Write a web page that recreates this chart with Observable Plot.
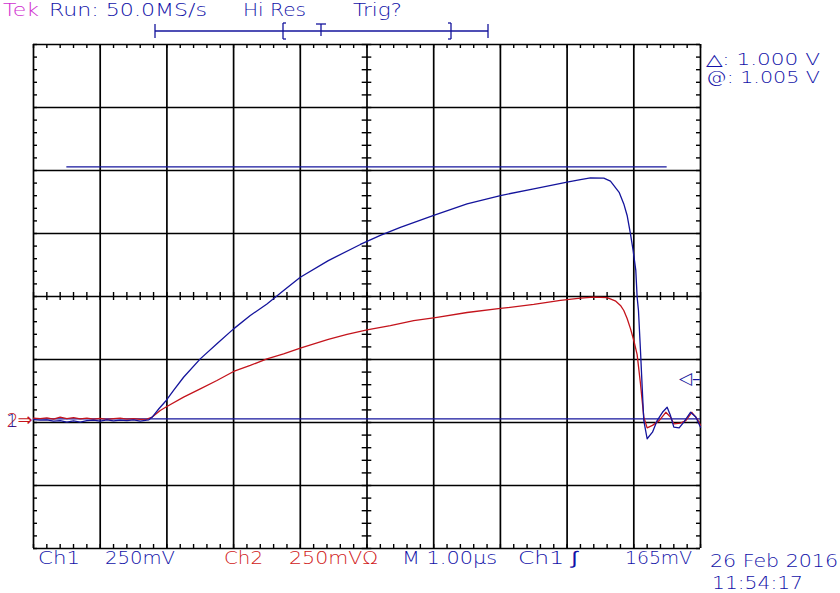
<!DOCTYPE html>
<html><head><meta charset="utf-8">
<script src="https://cdn.jsdelivr.net/npm/d3@7"></script>
<script src="https://cdn.jsdelivr.net/npm/@observablehq/plot@0.6"></script>
<style>
html,body{margin:0;padding:0;background:#fff;}
#wrap{position:relative;width:840px;height:593px;overflow:hidden;background:#fff;}
#wrap svg{position:absolute;left:0;top:0;}
#overlay text{font-family:"DejaVu Sans",sans-serif;font-weight:200;}
</style></head><body><div id="wrap"></div>
<script>
// ---- data (time in µs from left edge of screen, volts relative to ground) ----
const ch1Time = [0,0.1,0.2,0.3,0.4,0.5,0.6,0.7,0.8,0.9,1.0,1.1,1.2,1.3,1.4,1.5,1.6,1.7,
  1.73,1.78,1.88,1.99,2.10,2.25,2.50,2.75,3.00,3.25,3.50,3.75,4.00,4.42,4.90,5.20,5.50,6.00,6.50,7.00,
  7.50,8.00,8.20,8.35,8.55,8.65,8.78,8.85,8.90,8.95,8.99,9.03,9.05,9.07,9.10,9.13,9.15,9.20,9.28,9.35,
  9.43,9.50,9.55,9.60,9.68,9.75,9.85,9.93,10.0];
const ch1Volts = [0.002,0.000,0.001,-0.004,-0.002,-0.008,-0.003,-0.008,-0.002,0.000,-0.004,0.001,-0.003,0.000,-0.002,0.001,-0.004,0.000,
  0.001,0.012,0.045,0.078,0.118,0.170,0.243,0.303,0.362,0.415,0.461,0.514,0.567,0.633,0.697,0.733,0.765,0.812,0.858,0.891,
  0.918,0.944,0.954,0.961,0.960,0.948,0.904,0.858,0.812,0.739,0.673,0.594,0.488,0.435,0.276,0.106,-0.002,-0.074,-0.048,-0.002,
  0.031,0.051,0.018,-0.028,-0.031,-0.008,0.031,0.012,-0.028];
const ch2Time = [0,0.1,0.2,0.3,0.4,0.5,0.6,0.7,0.8,0.9,1.0,1.1,1.2,1.3,1.4,1.5,1.6,1.7,
  1.78,1.90,2.00,2.25,2.50,2.75,3.00,3.25,3.50,3.75,4.00,4.42,4.70,5.00,5.35,5.70,6.05,6.50,7.00,7.50,
  7.90,8.20,8.40,8.60,8.73,8.80,8.85,8.90,8.95,9.00,9.05,9.10,9.15,9.20,9.28,9.38,9.48,9.55,9.60,9.70,
  9.78,9.87,9.95,10.0];
const ch2Volts = [0.008,0.006,0.009,0.004,0.012,0.006,0.010,0.005,0.008,0.004,0.007,0.003,0.006,0.008,0.004,0.006,0.003,0.004,
  0.012,0.038,0.054,0.091,0.124,0.157,0.193,0.217,0.243,0.263,0.286,0.320,0.340,0.358,0.375,0.395,0.408,0.427,0.443,0.459,
  0.475,0.484,0.488,0.486,0.472,0.455,0.435,0.403,0.363,0.316,0.260,0.145,0.012,-0.031,-0.021,-0.002,0.031,0.012,-0.015,-0.012,
  -0.002,0.031,0.005,-0.021];
const cursorLevels = [1.005, 0.005];   // @: 1.005 V, Δ: 1.000 V
const triggerLevel = 0.165;            // Ch1 ∫ 165mV
const voltsPerDiv = 0.25;
const usPerDiv = 1.0;
const xDivs = 10, yDivs = 8;
const groundDivsFromBottom = 2.038;

const headerLabels = ["Tek", "Run: 50.0MS/s", "Hi Res", "Trig?"];
const cursorLabels = ["\u25B3: 1.000 V", "@: 1.005 V"];
const footerLabels = ["Ch1", "250mV", "Ch2", "250mV\u03A9", "M 1.00\u00B5s", "Ch1 \u222B", "165mV"];
const dateLabels = ["26 Feb 2016", "11:54:17"];

// ---- scales ----
const yMin = -groundDivsFromBottom * voltsPerDiv;
const yMax = yMin + yDivs * voltsPerDiv;
const xMax = xDivs * usPerDiv;
const ch1 = d3.zip(ch1Time, ch1Volts).map(([t, v]) => ({t, v}));
const ch2 = d3.zip(ch2Time, ch2Volts).map(([t, v]) => ({t, v}));
const majorX = d3.range(0, xDivs + 1).map(k => k * usPerDiv);
const majorY = d3.range(0, yDivs + 1).map(k => yMin + k * voltsPerDiv);
const minorX = d3.range(0, xDivs * 5 + 1).map(k => k * usPerDiv / 5);
const minorY = d3.range(0, yDivs * 5 + 1).map(k => yMin + k * voltsPerDiv / 5);
const tlV = 4 / 63 * voltsPerDiv;     // tick length in volts (4px)
const tlT = 4 / 66.7 * usPerDiv;      // tick length in µs (4px)
const yMid = yMin + yDivs / 2 * voltsPerDiv;
const xMid = xMax / 2;

const BLUE = "#14149c", RED = "#c4141c", GRID = "#000";

const plot = Plot.plot({
  width: 840, height: 593,
  marginLeft: 33, marginRight: 140, marginTop: 44, marginBottom: 45,
  x: {domain: [0, xMax], axis: null},
  y: {domain: [yMin, yMax], axis: null},
  style: {background: "transparent"},
  marks: [
    Plot.ruleX(majorX, {stroke: GRID, strokeWidth: 1.7}),
    Plot.ruleY(majorY, {stroke: GRID, strokeWidth: 1.7}),
    // minor ticks on frame edges and centre cross
    Plot.ruleX(minorX, {x: d => d, y1: yMax, y2: yMax - tlV, stroke: GRID, strokeWidth: 1.4}),
    Plot.ruleX(minorX, {x: d => d, y1: yMin, y2: yMin + tlV, stroke: GRID, strokeWidth: 1.4}),
    Plot.ruleX(minorX, {x: d => d, y1: yMid - tlV, y2: yMid + tlV, stroke: GRID, strokeWidth: 1.4}),
    Plot.ruleY(minorY, {y: d => d, x1: 0, x2: tlT, stroke: GRID, strokeWidth: 1.4}),
    Plot.ruleY(minorY, {y: d => d, x1: xMax - tlT, x2: xMax, stroke: GRID, strokeWidth: 1.4}),
    Plot.ruleY(minorY, {y: d => d, x1: xMid - tlT * 1.2, x2: xMid + tlT * 1.2, stroke: GRID, strokeWidth: 1.4}),
    // cursors
    Plot.ruleY([cursorLevels[0]], {x1: 0.5, x2: xMax - 0.5, stroke: BLUE, strokeWidth: 1.3}),
    Plot.ruleY([cursorLevels[1]], {x1: 0, x2: xMax, stroke: BLUE, strokeWidth: 1.3}),
    // traces
    Plot.line(ch2, {x: "t", y: "v", stroke: RED, strokeWidth: 1.3}),
    Plot.line(ch1, {x: "t", y: "v", stroke: BLUE, strokeWidth: 1.3}),
    // trigger level marker
    Plot.text([triggerLevel], {x: () => xMax, y: d => d, text: () => "\u25C1\u2013", textAnchor: "end", dx: 0,
      fill: BLUE, fontSize: 17, fontFamily: "DejaVu Sans"}),
    // ground markers
    Plot.text([0], {x: () => 0, y: d => d, text: () => "2", textAnchor: "start", dx: -27, dy: 1, fill: RED, fontSize: 19, fontFamily: "DejaVu Sans", fontWeight: 200}),
    Plot.text([0], {x: () => 0, y: d => d, text: () => "1", textAnchor: "start", dx: -27, dy: 1, fill: BLUE, fontSize: 17, fontFamily: "DejaVu Sans", fontWeight: 200}),
    Plot.text([0], {x: () => 0, y: d => d, text: () => "\u21D2", textAnchor: "end", dx: -1, dy: 0, fill: RED, fontSize: 18, fontFamily: "DejaVu Sans"})
  ]
});
const wrap = document.getElementById("wrap");
wrap.appendChild(plot);

// ---- overlay: readouts ----
const ns = "http://www.w3.org/2000/svg";
const ov = document.createElementNS(ns, "svg");
ov.setAttribute("id", "overlay");
ov.setAttribute("width", 840); ov.setAttribute("height", 593);
wrap.appendChild(ov);
function txt(s, x, y, len, fill, size) {
  const t = document.createElementNS(ns, "text");
  t.setAttribute("x", x); t.setAttribute("y", y);
  t.setAttribute("fill", fill); t.setAttribute("font-size", size);
  t.setAttribute("textLength", len); t.setAttribute("lengthAdjust", "spacingAndGlyphs");
  t.textContent = s; ov.appendChild(t);
}
function ln(x1, y1, x2, y2) {
  const l = document.createElementNS(ns, "line");
  l.setAttribute("x1", x1); l.setAttribute("y1", y1); l.setAttribute("x2", x2); l.setAttribute("y2", y2);
  l.setAttribute("stroke", BLUE); l.setAttribute("stroke-width", 1.3);
  ov.appendChild(l);
}
const MAG = "#d030d0", TBLUE = "#1212a8", TRED = "#d01818";
txt(headerLabels[0], 3, 16, 36, MAG, 18);
txt(headerLabels[1], 49, 16, 158, TBLUE, 18);
txt(headerLabels[2], 243, 16, 63, TBLUE, 18);
txt(headerLabels[3], 353, 16, 49, TBLUE, 18);
txt(cursorLabels[0], 706, 65, 114, TBLUE, 16);
txt(cursorLabels[1], 706, 83, 114, TBLUE, 16);
const fx = [[38,42,TBLUE],[105,70,TBLUE],[224,39,TRED],[289,89,TRED],[402,95,TBLUE],[518,60,TBLUE],[625,67,TBLUE]];
footerLabels.forEach((s, i) => txt(s, fx[i][0], 564, fx[i][1], fx[i][2], 18));
txt(dateLabels[0], 710, 567, 128, TBLUE, 18);
txt(dateLabels[1], 712, 589, 91, TBLUE, 17);
// record-length bar
ln(155, 31, 488, 31); ln(155, 24, 155, 38); ln(488, 24, 488, 38);
ln(286, 23, 283, 23); ln(283, 23, 283, 39); ln(283, 39, 286, 39);
ln(448, 23, 451, 23); ln(451, 23, 451, 39); ln(451, 39, 448, 39);
ln(316, 24, 326, 24); ln(321, 24, 321, 36);
</script>
</body></html>
